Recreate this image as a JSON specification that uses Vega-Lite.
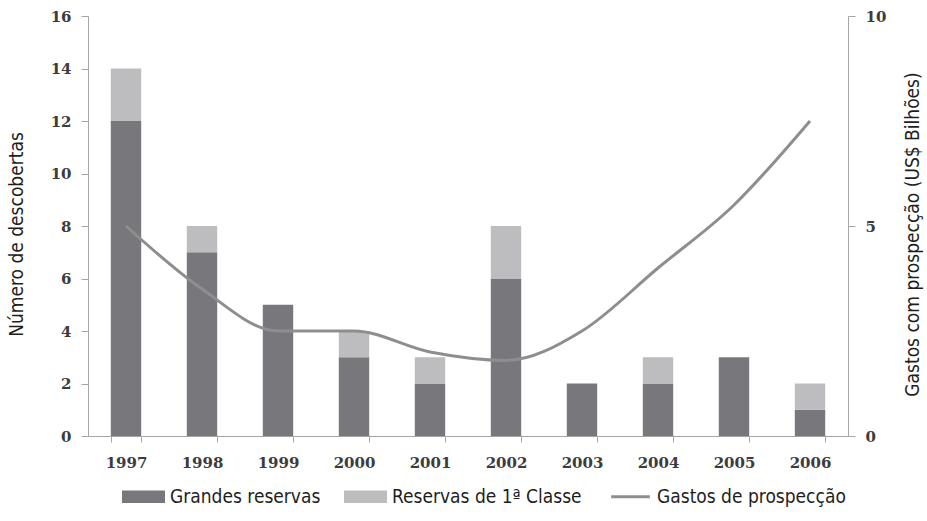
{
  "$schema": "https://vega.github.io/schema/vega-lite/v6.json",
  "width": 760,
  "height": 420,
  "autosize": {"type": "none"},
  "padding": {"left": 88, "top": 16, "right": 79, "bottom": 85},
  "background": "white",
  "config": {
    "view": {"stroke": null},
    "axis": {
      "grid": false,
      "domainColor": "#a6a6a6",
      "tickColor": "#a6a6a6",
      "tickSize": 7,
      "labelFont": "DejaVu Serif",
      "labelFontSize": 15,
      "labelFontWeight": "bold",
      "labelColor": "#3c3c3c",
      "titleFont": "DejaVu Sans Condensed, Liberation Sans Narrow, sans-serif",
      "titleFontSize": 19,
      "titleFontWeight": "normal",
      "titleColor": "#1e1e1e"
    }
  },
  "datasets": {
    "bars": [
      {"ano": "1997", "tipo": "Grandes reservas", "n": 12, "ord": 1},
      {"ano": "1997", "tipo": "Reservas de 1ª Classe", "n": 2, "ord": 2},
      {"ano": "1998", "tipo": "Grandes reservas", "n": 7, "ord": 1},
      {"ano": "1998", "tipo": "Reservas de 1ª Classe", "n": 1, "ord": 2},
      {"ano": "1999", "tipo": "Grandes reservas", "n": 5, "ord": 1},
      {"ano": "1999", "tipo": "Reservas de 1ª Classe", "n": 0, "ord": 2},
      {"ano": "2000", "tipo": "Grandes reservas", "n": 3, "ord": 1},
      {"ano": "2000", "tipo": "Reservas de 1ª Classe", "n": 1, "ord": 2},
      {"ano": "2001", "tipo": "Grandes reservas", "n": 2, "ord": 1},
      {"ano": "2001", "tipo": "Reservas de 1ª Classe", "n": 1, "ord": 2},
      {"ano": "2002", "tipo": "Grandes reservas", "n": 6, "ord": 1},
      {"ano": "2002", "tipo": "Reservas de 1ª Classe", "n": 2, "ord": 2},
      {"ano": "2003", "tipo": "Grandes reservas", "n": 2, "ord": 1},
      {"ano": "2003", "tipo": "Reservas de 1ª Classe", "n": 0, "ord": 2},
      {"ano": "2004", "tipo": "Grandes reservas", "n": 2, "ord": 1},
      {"ano": "2004", "tipo": "Reservas de 1ª Classe", "n": 1, "ord": 2},
      {"ano": "2005", "tipo": "Grandes reservas", "n": 3, "ord": 1},
      {"ano": "2005", "tipo": "Reservas de 1ª Classe", "n": 0, "ord": 2},
      {"ano": "2006", "tipo": "Grandes reservas", "n": 1, "ord": 1},
      {"ano": "2006", "tipo": "Reservas de 1ª Classe", "n": 1, "ord": 2}
    ],
    "gastos": [
      {"ano": "1997", "gastos": 5.0},
      {"ano": "1998", "gastos": 3.5},
      {"ano": "1999", "gastos": 2.5},
      {"ano": "2000", "gastos": 2.5},
      {"ano": "2001", "gastos": 2.0},
      {"ano": "2002", "gastos": 1.8},
      {"ano": "2003", "gastos": 2.5},
      {"ano": "2004", "gastos": 4.0},
      {"ano": "2005", "gastos": 5.5},
      {"ano": "2006", "gastos": 7.5}
    ]
  },
  "layer": [
    {
      "data": {"name": "bars"},
      "mark": {"type": "bar"},
      "encoding": {
        "x": {
          "field": "ano",
          "type": "ordinal",
          "scale": {"paddingInner": 0.6, "paddingOuter": 0.3},
          "axis": {
            "title": null,
            "labelAngle": 0,
            "tickBand": "extent",
            "tickSize": 6,
            "labelPadding": 13
          }
        },
        "y": {
          "field": "n",
          "type": "quantitative",
          "stack": "zero",
          "scale": {"domain": [0, 16]},
          "axis": {
            "orient": "left",
            "values": [0, 2, 4, 6, 8, 10, 12, 14, 16],
            "title": "Número de descobertas",
            "titleX": -62,
            "titleY": 218,
            "titleAngle": 270,
            "labelPadding": 10
          }
        },
        "color": {
          "field": "tipo",
          "type": "nominal",
          "scale": {
            "domain": ["Grandes reservas", "Reservas de 1ª Classe", "Gastos de prospecção"],
            "range": ["#78787c", "#bdbdbf", "#8e8e8e"]
          },
          "legend": {
            "title": null,
            "orient": "none",
            "direction": "horizontal",
            "legendX": 46,
            "legendY": 471,
            "symbolSize": 1849,
            "labelFont": "DejaVu Sans Condensed, Liberation Sans Narrow, sans-serif",
            "labelFontSize": 19,
            "labelColor": "#1e1e1e",
            "labelLimit": 0,
            "labelOffset": 17,
            "columnPadding": 23,
            "symbolOpacity": 1,
            "encode": {
              "symbols": {
                "update": {
                  "shape": {"signal": "datum.value === 'Gastos de prospecção' ? 'M-0.9,0H0.9' : 'M-1,-0.29H1V0.29H-1Z'"},
                  "fill": {"signal": "datum.value === 'Gastos de prospecção' ? 'transparent' : (datum.value === 'Grandes reservas' ? '#78787c' : '#bdbdbf')"},
                  "stroke": {"signal": "datum.value === 'Gastos de prospecção' ? '#8e8e8e' : 'transparent'"},
                  "strokeWidth": {"signal": "datum.value === 'Gastos de prospecção' ? 3 : 0"},
                  "opacity": {"value": 1}
                }
              }
            }
          }
        },
        "order": {"field": "ord", "type": "quantitative"}
      }
    },
    {
      "data": {"name": "gastos"},
      "mark": {"type": "line", "interpolate": "monotone", "strokeWidth": 3},
      "encoding": {
        "x": {"field": "ano", "type": "ordinal"},
        "y": {
          "field": "gastos",
          "type": "quantitative",
          "scale": {"domain": [0, 10]},
          "axis": {
            "orient": "right",
            "values": [0, 5, 10],
            "title": "Gastos com prospecção (US$ Bilhões)",
            "titleX": 74,
            "titleY": 218,
            "titleAngle": 270,
            "labelPadding": 10
          }
        },
        "color": {"datum": "Gastos de prospecção"}
      }
    }
  ],
  "resolve": {"scale": {"y": "independent"}}
}
